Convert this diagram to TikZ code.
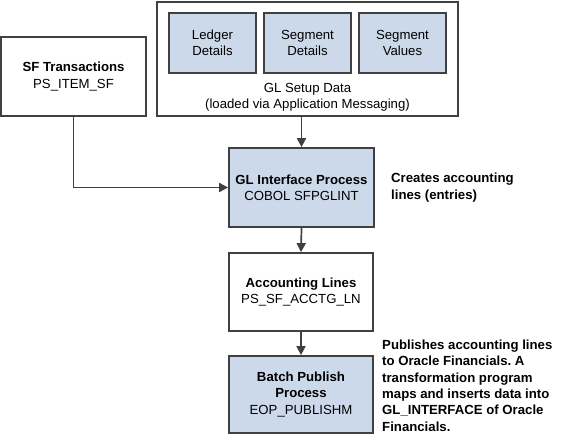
\documentclass[tikz,border=0pt]{standalone}
\usepackage{fontspec}
\setmainfont{Liberation Sans}
\usetikzlibrary{arrows.meta}
\definecolor{boxfill}{RGB}{204,217,234}
\definecolor{boxline}{RGB}{64,64,64}
\frenchspacing
\tikzset{
  txt/.style={font=\fontsize{13.2}{16.4}\selectfont, align=center, inner sep=0pt},
  plainbox/.style={draw=boxline, line width=1.7pt, fill=white, inner sep=0pt},
  bluebox/.style={draw=boxline, line width=1.7pt, fill=boxfill, inner sep=0pt},
  conn/.style={draw=boxline, line width=1.7pt, -{Triangle[length=9pt,width=9pt]}},
  note/.style={font=\fontsize{13.2}{16.4}\selectfont\bfseries, align=left, inner sep=0pt, anchor=west}
}
\begin{document}
\begin{tikzpicture}[x=1pt,y=-1pt]
\useasboundingbox (0,0) rectangle (566,442);
% boxes
\node[plainbox, minimum width=145pt, minimum height=79pt] (sf) at (73.5,76.5) {};
\node[txt] at (sf.center) {\textbf{SF Transactions}\\PS\_ITEM\_SF};

\node[plainbox, minimum width=301pt, minimum height=114pt] (setup) at (307.5,59) {};
\node[bluebox, minimum width=87pt, minimum height=60pt] (ledger) at (212.5,43) {};
\node[txt] at (ledger.center) {Ledger\\Details};
\node[bluebox, minimum width=87pt, minimum height=60pt] (segd) at (307.5,43) {};
\node[txt] at (segd.center) {Segment\\Details};
\node[bluebox, minimum width=87pt, minimum height=60pt] (segv) at (402.5,43) {};
\node[txt] at (segv.center) {Segment\\Values};
\node[txt] (setuptxt) at (307.5,97) {GL Setup Data\\(loaded via Application Messaging)};

\node[bluebox, minimum width=145pt, minimum height=79pt] (gli) at (301.5,187.5) {};
\node[txt] at (gli.center) {\textbf{GL Interface Process}\\COBOL SFPGLINT};
\node[note] (creates) at (391,187.5) {Creates accounting\\lines (entries)};

\node[plainbox, minimum width=144pt, minimum height=78pt] (acc) at (301,292) {};
\node[txt] at (acc.center) {\textbf{Accounting Lines}\\PS\_SF\_ACCTG\_LN};

\node[bluebox, minimum width=144pt, minimum height=77pt] (batch) at (301,394.5) {};
\node[txt] at (batch.center) {\textbf{Batch Publish}\\\textbf{Process}\\EOP\_PUBLISHM};
\node[note] (pub) at (382,385.5) {Publishes accounting lines\\to Oracle Financials. A\\transformation program\\maps and inserts data into\\GL\_INTERFACE of Oracle\\Financials.};

% connectors
\draw[conn] (sf.south) |- (gli.west);
\draw[conn] (gli.north |- setup.south) -- (gli.north);
\draw[conn] (gli.south) -- (acc.north);
\draw[conn] (acc.south) -- (batch.north);
\end{tikzpicture}
\end{document}
